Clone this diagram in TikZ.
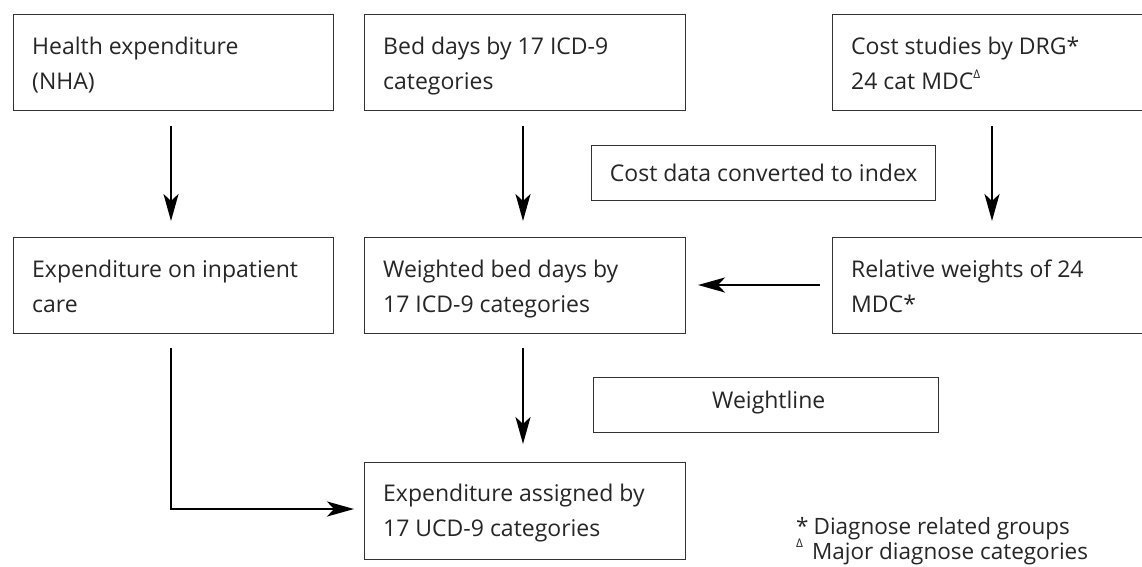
\documentclass[tikz,border=0pt]{standalone}
\usepackage{fontspec}
\setmainfont{Open Sans}
\usetikzlibrary{arrows.meta}
\definecolor{ink}{HTML}{262626}
\definecolor{frame}{HTML}{333333}
\begin{document}
\begin{tikzpicture}[x=1pt,y=-1pt,
  boxshape/.style={draw=frame,line width=1.4pt,rectangle,inner sep=0pt,anchor=north west},
  boxtext/.style={anchor=north west,inner sep=0pt,align=left,text=ink,
    font=\fontsize{23}{35}\selectfont},
  midtext/.style={inner sep=0pt,text=ink,font=\fontsize{23}{35}\selectfont},
  foot/.style={anchor=base west,inner sep=0pt,text=ink,font=\fontsize{22.5}{30}\selectfont},
  flow/.style={line width=2.7pt,black,-{Stealth[length=27pt,width=15pt,inset=7pt]}}]
\useasboundingbox (0,0) rectangle (1142,566);
\clip (0,0) rectangle (1142,566);
\fill[white] (0,0) rectangle (1142,566);
% row 1
\node[boxshape,minimum width=320pt,minimum height=96pt] (b1) at (13,14) {};
\node[boxshape,minimum width=321pt,minimum height=96pt] (b2) at (364,14) {};
\node[boxshape,minimum width=330pt,minimum height=96pt] (b3) at (832,14) {};
\node[boxtext] (t1) at (32,37) {Health expenditure\\(NHA)};
\node[boxtext] (t2) at (383,37) {Bed days by 17 ICD-9\\categories};
\node[boxtext] (t3) at (851,37) {Cost studies by DRG*\\24 cat MDC\raisebox{0.5em}{\fontsize{12}{12}\selectfont\symbol{"0394}}};
% converter box
\node[boxshape,minimum width=344pt,minimum height=55pt] (cv) at (591,145) {};
\node[midtext] (tcv) at (cv.center) {Cost data converted to index};
% row 2
\node[boxshape,minimum width=320pt,minimum height=96pt] (b4) at (13,237) {};
\node[boxshape,minimum width=321pt,minimum height=96pt] (b5) at (364,237) {};
\node[boxshape,minimum width=330pt,minimum height=96pt] (b6) at (832,237) {};
\node[boxtext] (t4) at (32,260) {Expenditure on inpatient\\care};
\node[boxtext] (t5) at (383,260) {Weighted bed days by\\17 ICD-9 categories};
\node[boxtext] (t6) at (851,260) {Relative weights of 24\\MDC*};
% weightline box
\node[boxshape,minimum width=345pt,minimum height=55pt] (wl) at (593,377) {};
\node[boxtext] (twl) at (712,391) {Weightline};
% bottom box
\node[boxshape,minimum width=321pt,minimum height=97pt] (b7) at (364,462) {};
\node[boxtext] (t7) at (383,484) {Expenditure assigned by\\17 UCD-9 categories};
% footnotes
\node[foot] (f1) at (796,534) {*\hspace{5pt}Diagnose related groups};
\node[foot] (f2) at (796,559) {\raisebox{0.5em}{\fontsize{12}{12}\selectfont\symbol{"0394}}\hspace{9pt}Major diagnose categories};
% connectors
\coordinate (a1s) at (171,126); \coordinate (a1e) at (171,221);
\coordinate (a2s) at (523,126); \coordinate (a2e) at (523,221);
\coordinate (a3s) at (992,126); \coordinate (a3e) at (992,221);
\draw[flow] (a1s) -- (a1e);
\draw[flow] (a2s) -- (a2e);
\draw[flow] (a3s) -- (a3e);
\coordinate (hs) at (820,285); \coordinate (he) at (698,285);
\draw[flow] (hs) -- (he);
\coordinate (vs) at (523,348); \coordinate (ve) at (523,444);
\draw[flow] (vs) -- (ve);
\coordinate (ls) at (171,348); \coordinate (lc) at (171,509); \coordinate (le) at (354,509);
\draw[flow] (ls) -- (lc) -- (le);
\end{tikzpicture}
\end{document}
